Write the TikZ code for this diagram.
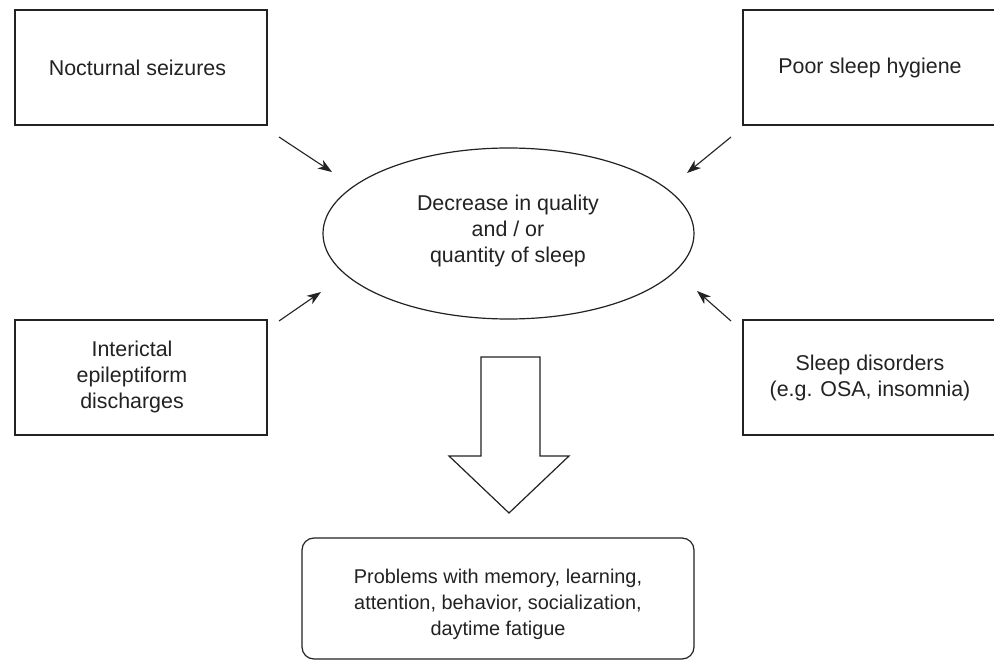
\documentclass[tikz,border=0pt]{standalone}
\usepackage{fontspec}
\setmainfont{Liberation Sans}
\usetikzlibrary{shapes.geometric,arrows.meta}
\definecolor{ink}{HTML}{222222}
\tikzset{
  box/.style={draw=ink, line width=1.2pt, minimum width=252pt, minimum height=115pt, inner sep=0pt},
  lbl/.style={text=ink, font=\fontsize{21.4}{26}\selectfont, align=center, inner sep=0pt},
  feed/.style={draw=ink, line width=1.1pt, -{Stealth[length=14pt,width=10pt,inset=4pt]}},
  blob/.style={ellipse, draw=ink, line width=1.2pt, minimum width=371pt, minimum height=171pt, inner sep=0pt},
  outcome/.style={draw=ink, line width=1.2pt, rounded corners=12pt, minimum width=392pt, minimum height=121pt, inner sep=0pt},
  bigarrow/.style={draw=ink, line width=1.2pt, fill=white, line join=miter}
}
\begin{document}
\begin{tikzpicture}[x=1pt,y=-1pt]
\useasboundingbox (0,0) rectangle (994,660);
\fill[white] (0,0) rectangle (994,660);

% boxes
\node[box] (tl) at (141,67.5) {};
\node[box, minimum width=254pt] (tr) at (870,67.5) {};
\node[box] (bl) at (141,377.5) {};
\node[box, minimum width=254pt] (br) at (870,377.5) {};

\node[lbl] (tltext) at (137.5,68) {Nocturnal seizures};
\node[lbl] (trtext) at (870,68) {Poor sleep hygiene};
\node[lbl] (bltext) at (132,377) {Interictal\\epileptiform\\discharges};
\node[lbl] (brtext) at (870,378) {Sleep disorders\\(e.g. OSA, insomnia)};

% ellipse
\node[blob] (ell) at (508.5,233.5) {};
\node[lbl] (elltext) at (508,231) {Decrease in quality\\and / or\\quantity of sleep};

% feeding arrows
\coordinate (a1s) at (279,137);
\coordinate (a1e) at (332,172);
\coordinate (a2s) at (731,137);
\coordinate (a2e) at (687,173);
\coordinate (a3s) at (279,321);
\coordinate (a3e) at (321,292);
\coordinate (a4s) at (731,321);
\coordinate (a4e) at (697,291);
\draw[feed] (a1s) -- (a1e);
\draw[feed] (a2s) -- (a2e);
\draw[feed] (a3s) -- (a3e);
\draw[feed] (a4s) -- (a4e);

% big down arrow
\draw[bigarrow] (481,357) -- (540,357) -- (540,456) -- (569,456) -- (509,513) -- (449,456) -- (481,456) -- cycle;

% outcome box
\node[outcome] (out) at (498,598.5) {};
\node[lbl, font=\fontsize{19.9}{26}\selectfont] (outtext) at (498,604) {Problems with memory, learning,\\attention, behavior, socialization,\\daytime fatigue};
\end{tikzpicture}
\end{document}
